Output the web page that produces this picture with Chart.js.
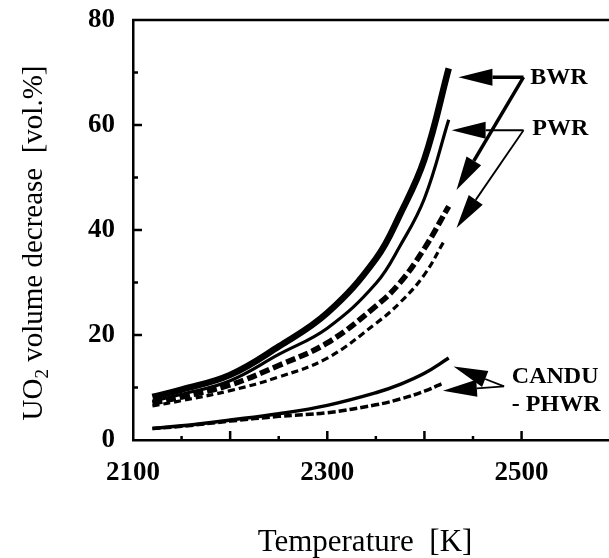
<!DOCTYPE html>
<html>
<head>
<meta charset="utf-8">
<script src="https://cdn.jsdelivr.net/npm/chart.js@4.4.1/dist/chart.umd.min.js"></script>
<style>
  body { margin: 0; background: #fff; }
  canvas { display: block; }
</style>
</head>
<body>
<canvas id="chart1" width="609" height="558"></canvas>
<script>
// values
const temps = [2120, 2150, 2200, 2250, 2300, 2350, 2375, 2400, 2425];
const tempsShort = [2120, 2150, 2200, 2250, 2300, 2350, 2375, 2400, 2420];

const bwrSolid = [8.2, 9.6, 12.4, 17.8, 24.2, 34.5, 43, 53.5, 70.8];
const pwrSolid = [7.4, 8.7, 11.3, 16.3, 21.3, 29.8, 37, 46, 61];
const bwrDashed = [7.0, 8.2, 10.5, 14.2, 18.5, 25.5, 30, 36.5, 44.5];
const pwrDashed = [6.5, 7.5, 9.4, 12.0, 15.6, 22.2, 26.2, 31.5, 37.8];
const canduSolid = [2.2, 2.7, 3.8, 5.0, 6.6, 9.0, 10.6, 12.7, 15.6];
const canduDashed = [2.2, 2.6, 3.6, 4.5, 5.2, 6.7, 7.8, 9.3, 10.9];

const xLabels = [2100, 2300, 2500];
const yLabels = [0, 20, 40, 60, 80];

const xTitle = "Temperature  [K]";
const yTitle = ["UO", "2", " volume decrease  [vol.%]"];

// arrows: from label junction to curve end, in data units
const arrows = [
    { from: [2502, 69.1], to: [2435, 69.1], width: 3.5 },
    { from: [2502, 69.1], to: [2433, 47.6], width: 3.5 },
    { from: [2502, 59.0], to: [2428, 59.0], width: 1.8 },
    { from: [2502, 59.0], to: [2433, 40.4], width: 1.8 },
    { from: [2482, 10.2], to: [2430, 14.0], width: 1.8 },
    { from: [2482, 10.2], to: [2419, 9.4], width: 1.8 }
];
const notes = [
    { text: "BWR", at: [2509, 69.0] },
    { text: "PWR", at: [2511, 59.2] },
    { text: "CANDU", at: [2490, 12.0] },
    { text: "- PHWR", at: [2490, 6.7] }
];

function pts(xs, ys) {
    return xs.map((x, i) => ({ x: x, y: ys[i] }));
}

const serif = '"Liberation Serif", "Times New Roman", serif';

const frame = {
    id: 'frame',
    afterDraw(chart) {
        const ctx = chart.ctx;
        const a = chart.chartArea;
        const sx = chart.scales.x;
        const sy = chart.scales.y;
        ctx.save();
        ctx.strokeStyle = '#000';
        ctx.fillStyle = '#000';

        // top line of the box
        ctx.lineWidth = 2.5;
        ctx.beginPath();
        ctx.moveTo(a.left - 1, a.top);
        ctx.lineTo(a.right, a.top);
        ctx.stroke();

        // inward ticks
        ctx.lineWidth = 2.5;
        sx.ticks.forEach(t => {
            const px = sx.getPixelForValue(t.value);
            if (t.value === sx.min) return;
            const len = t.value % 100 === 0 ? 9 : 4;
            ctx.beginPath();
            ctx.moveTo(px, a.bottom);
            ctx.lineTo(px, a.bottom - len);
            ctx.stroke();
        });
        sy.ticks.forEach(t => {
            const py = sy.getPixelForValue(t.value);
            if (t.value === sy.min || t.value === sy.max) return;
            const len = t.value % 20 === 0 ? 9 : 5;
            ctx.beginPath();
            ctx.moveTo(a.left, py);
            ctx.lineTo(a.left + len, py);
            ctx.stroke();
        });

        // arrows
        arrows.forEach(ar => {
            const x0 = sx.getPixelForValue(ar.from[0]);
            const y0 = sy.getPixelForValue(ar.from[1]);
            const x1 = sx.getPixelForValue(ar.to[0]);
            const y1 = sy.getPixelForValue(ar.to[1]);
            const ang = Math.atan2(y1 - y0, x1 - x0);
            const head = 34, half = 8.5;
            const bx = x1 - head * Math.cos(ang);
            const by = y1 - head * Math.sin(ang);
            ctx.lineWidth = ar.width;
            ctx.beginPath();
            ctx.moveTo(x0, y0);
            ctx.lineTo(bx, by);
            ctx.stroke();
            ctx.beginPath();
            ctx.moveTo(x1, y1);
            ctx.lineTo(bx + half * Math.sin(ang), by - half * Math.cos(ang));
            ctx.lineTo(bx - half * Math.sin(ang), by + half * Math.cos(ang));
            ctx.closePath();
            ctx.fill();
        });

        // notes
        ctx.font = 'bold 24px ' + serif;
        ctx.textAlign = 'left';
        ctx.textBaseline = 'middle';
        notes.forEach(n => {
            ctx.fillText(n.text, sx.getPixelForValue(n.at[0]), sy.getPixelForValue(n.at[1]));
        });

        // axis titles
        ctx.font = '31px ' + serif;
        ctx.textAlign = 'center';
        ctx.textBaseline = 'alphabetic';
        ctx.fillText(xTitle, 365, 551);

        ctx.translate(42, 243);
        ctx.rotate(-Math.PI / 2);
        ctx.font = '29px ' + serif;
        const w0 = ctx.measureText(yTitle[0]).width;
        ctx.font = '19px ' + serif;
        const w1 = ctx.measureText(yTitle[1]).width;
        ctx.font = '29px ' + serif;
        const w2 = ctx.measureText(yTitle[2]).width;
        let x = -(w0 + w1 + w2) / 2;
        ctx.textAlign = 'left';
        ctx.fillText(yTitle[0], x, 0);
        x += w0;
        ctx.font = '19px ' + serif;
        ctx.fillText(yTitle[1], x, 6);
        x += w1;
        ctx.font = '29px ' + serif;
        ctx.fillText(yTitle[2], x, 0);
        ctx.restore();
    }
};

const ctx = document.getElementById("chart1").getContext('2d');

const set = {
    datasets: [
        { label: "BWR", data: pts(temps, bwrSolid), borderWidth: 6.5 },
        { label: "PWR", data: pts(temps, pwrSolid), borderWidth: 3.2 },
        { label: "BWR (dashed)", data: pts(temps, bwrDashed), borderWidth: 5.5, borderDash: [10, 4] },
        { label: "PWR (dashed)", data: pts(tempsShort, pwrDashed), borderWidth: 3.2, borderDash: [7, 4] },
        { label: "CANDU - PHWR", data: pts(temps, canduSolid), borderWidth: 3.5 },
        { label: "CANDU - PHWR (dashed)", data: pts(tempsShort, canduDashed), borderWidth: 3.5, borderDash: [8, 3] }
    ].map(d => Object.assign({
        borderColor: '#000',
        backgroundColor: '#000',
        pointRadius: 0,
        fill: false,
        tension: 0.4,
        borderCapStyle: 'butt'
    }, d))
};

const chart = new Chart(ctx, {
    type: 'line',
    data: set,
    plugins: [frame],
    options: {
        responsive: false,
        animation: false,
        devicePixelRatio: 1,
        layout: { padding: { top: 20, right: 0, left: 0, bottom: 0 } },
        plugins: { legend: { display: false }, tooltip: { enabled: false } },
        scales: {
            x: {
                type: 'linear',
                min: 2100,
                max: 2590,
                grid: { display: false, drawTicks: false },
                border: { display: true, color: '#000', width: 2.5 },
                afterBuildTicks: s => { s.ticks = s.ticks.filter(t => t.value % 50 === 0); },
                afterFit: s => { s.height = 118; },
                ticks: {
                    stepSize: 50,
                    autoSkip: false,
                    maxRotation: 0,
                    padding: 17,
                    color: '#000',
                    font: { family: serif, size: 27, weight: 'bold' },
                    callback: v => xLabels.includes(v) ? String(v) : ''
                }
            },
            y: {
                min: 0,
                max: 80,
                grid: { display: false, drawTicks: false },
                border: { display: true, color: '#000', width: 2.5 },
                afterFit: s => { s.width = 133; s.paddingTop = 0; s.paddingBottom = 0; },
                ticks: {
                    stepSize: 10,
                    autoSkip: false,
                    padding: 18,
                    color: '#000',
                    font: { family: serif, size: 27, weight: 'bold', lineHeight: 1 },
                    callback: v => yLabels.includes(v) ? String(v) : ''
                }
            }
        }
    }
});
</script>
</body>
</html>
